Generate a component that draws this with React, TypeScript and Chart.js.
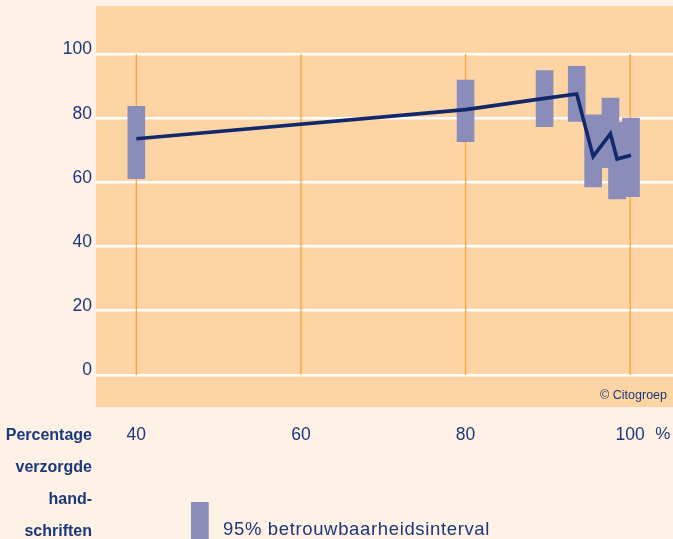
import React, { useEffect, useRef } from 'react';
import { Chart, registerables } from 'chart.js';

Chart.register(...registerables);

// ---- data ----
const X_VALUES = [40, 80, 89.6, 93.5, 95.5, 97.6, 98.4, 100.1];
const MID_VALUES = [73.6, 82.7, 86.2, 87.6, 68.1, 75.2, 67.3, 68.5];
const LOW_VALUES = [61.2, 72.7, 77.4, 79.0, 58.6, 64.6, 54.9, 55.6];
const HIGH_VALUES = [83.7, 91.9, 94.9, 96.2, 81.1, 86.3, 78.7, 80.1];
const X_TICKS = [40, 60, 80, 100];
const Y_TICKS = [0, 20, 40, 60, 80, 100];
const LEFT_LABEL_LINES = ['Percentage', 'verzorgde', 'hand-', 'schriften'];
const LEGEND_LABEL = '95% betrouwbaarheidsinterval';
const X_UNIT = '%';
const COPYRIGHT = '\u00A9 Citogroep';

// ---- styles ----
const PAGE_BG = '#fef1e5';
const PLOT_BG = '#fdd5a5';
const NAVY = '#1b387b';
const LINE_COLOR = '#11286b';
const BAR_COLOR = '#8a8cb9';
const ORANGE = '#f6a43c';
const FONT = '"Liberation Sans", Arial, Helvetica, sans-serif';

const decorPlugin = {
  id: 'decor',
  beforeDraw(chart: any) {
    const { ctx, chartArea } = chart;
    ctx.save();
    ctx.fillStyle = PLOT_BG;
    ctx.fillRect(chartArea.left, chartArea.top, chartArea.right - chartArea.left, chartArea.bottom - chartArea.top);
    ctx.restore();
  },
  beforeDatasetsDraw(chart: any) {
    const { ctx } = chart;
    const xs = chart.scales.x;
    const ys = chart.scales.y;
    ctx.save();
    ctx.strokeStyle = ORANGE;
    ctx.lineWidth = 1.3;
    const top = ys.getPixelForValue(Y_TICKS[Y_TICKS.length - 1]);
    const bottom = ys.getPixelForValue(Y_TICKS[0]);
    for (const v of X_TICKS) {
      const px = xs.getPixelForValue(v);
      ctx.beginPath();
      ctx.moveTo(px, top);
      ctx.lineTo(px, bottom);
      ctx.stroke();
    }
    ctx.restore();
  },
  afterDraw(chart: any) {
    const { ctx, chartArea } = chart;
    const xs = chart.scales.x;
    ctx.save();
    ctx.fillStyle = NAVY;
    ctx.textBaseline = 'alphabetic';
    // left bold labels
    ctx.font = `bold 16px ${FONT}`;
    ctx.textAlign = 'right';
    const baselines = [440, 472, 504, 535.5];
    LEFT_LABEL_LINES.forEach((t, i) => ctx.fillText(t, 92, baselines[i]));
    // unit after 100
    ctx.font = `17px ${FONT}`;
    ctx.textAlign = 'left';
    ctx.fillText(X_UNIT, xs.getPixelForValue(X_TICKS[X_TICKS.length - 1]) + 25, 439);
    // copyright
    ctx.font = `12.5px ${FONT}`;
    ctx.textAlign = 'right';
    ctx.fillText(COPYRIGHT, chartArea.right - 6, chartArea.bottom - 8.5);
    // legend
    ctx.fillStyle = BAR_COLOR;
    ctx.fillRect(191, 502, 17.7, 40);
    ctx.fillStyle = NAVY;
    ctx.textAlign = 'left';
    ctx.font = `18.5px ${FONT}`;
    try { (ctx as any).letterSpacing = '0.65px'; } catch (e) {}
    ctx.fillText(LEGEND_LABEL, 223, 535);
    ctx.restore();
  },
};

export default function App() {
  const ref = useRef<HTMLCanvasElement>(null);
  useEffect(() => {
    document.body.style.margin = '0';
    const chart = new Chart(ref.current as HTMLCanvasElement, {
      type: 'bar',
      data: {
        datasets: [
          {
            type: 'line',
            label: 'gemiddelde',
            data: X_VALUES.map((x, i) => ({ x, y: MID_VALUES[i] })),
            borderColor: LINE_COLOR,
            borderWidth: 3.6,
            pointRadius: 0,
            borderJoinStyle: 'miter',
            tension: 0,
            order: 0,
          } as any,
          {
            type: 'bar',
            label: LEGEND_LABEL,
            data: X_VALUES.map((x, i) => ({ x, y: [LOW_VALUES[i], HIGH_VALUES[i]] })),
            backgroundColor: BAR_COLOR,
            borderWidth: 0,
            barThickness: 17,
            grouped: false,
            order: 1,
          } as any,
        ],
      },
      options: {
        responsive: false,
        animation: false,
        layout: { padding: { top: 6, left: 0, right: 0, bottom: 0 } },
        plugins: { legend: { display: false }, tooltip: { enabled: false } },
        scales: {
          x: {
            type: 'linear',
            min: 35.1,
            max: 105.2,
            offset: false,
            grid: { display: false, drawTicks: false },
            border: { display: false },
            afterBuildTicks: (s: any) => { s.ticks = X_TICKS.map((v) => ({ value: v })); },
            afterFit: (s: any) => { s.height = 132; s.paddingLeft = 0; s.paddingRight = 0; },
            ticks: {
              color: NAVY,
              font: { family: FONT, size: 17.5 },
              padding: 18,
              autoSkip: false,
              maxRotation: 0,
              callback: (v: any) => String(v),
            },
          },
          y: {
            min: -10,
            max: 115,
            grid: { color: '#ffffff', lineWidth: 2.6, drawTicks: false },
            border: { display: false },
            afterBuildTicks: (s: any) => { s.ticks = Y_TICKS.map((v) => ({ value: v })); },
            afterFit: (s: any) => { s.width = 96; s.paddingTop = 0; s.paddingBottom = 0; },
            ticks: {
              color: NAVY,
              font: { family: FONT, size: 17.5 },
              padding: 4,
              labelOffset: -4.5,
              callback: (v: any) => String(v),
            },
          },
        },
      } as any,
      plugins: [decorPlugin],
    });
    return () => chart.destroy();
  }, []);
  return (
    <div style={{ width: 673, height: 539, background: PAGE_BG, overflow: 'hidden' }}>
      <canvas ref={ref} width={673} height={539} style={{ display: 'block' }} />
    </div>
  );
}
